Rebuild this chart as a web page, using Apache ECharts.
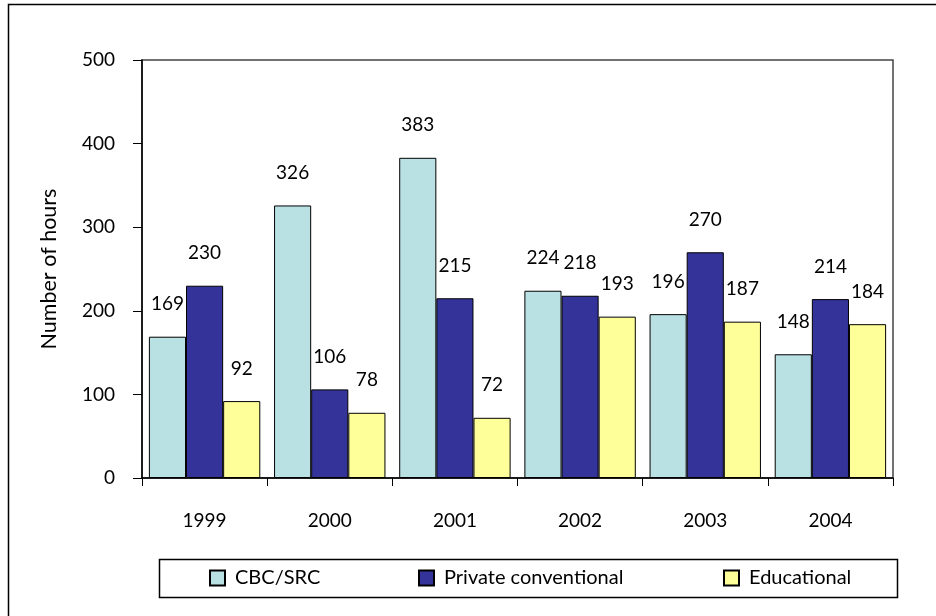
<!DOCTYPE html>
<html>
<head>
<meta charset="utf-8">
<script src="https://cdn.jsdelivr.net/npm/echarts@6/dist/echarts.min.js"></script>
<style>html,body{margin:0;padding:0;background:#fff;}#c{width:936px;height:616px;}</style>
</head>
<body>
<div id="c"></div>
<script>
const years = ['1999', '2000', '2001', '2002', '2003', '2004'];
const cbc = [169, 326, 383, 224, 196, 148];
const privateConv = [230, 106, 215, 218, 270, 214];
const educational = [92, 78, 72, 193, 187, 184];
const seriesNames = ['CBC/SRC', 'Private conventional', 'Educational'];
const colors = ['#B9E0E3', '#333399', '#FFFF99'];

const FONT = 'Lato';
const FS = 19;
const chart = echarts.init(document.getElementById('c'), null, {renderer: 'canvas'});
const mk = (name, data, color) => ({
  name: name, type: 'bar', data: data, barGap: '0%', barCategoryGap: '11%',
  itemStyle: {color: color, borderColor: '#000', borderWidth: 1},
  label: {show: true, position: 'top', distance: 23, color: '#000', fontFamily: FONT, fontSize: FS},
  emphasis: {disabled: true}
});
const legendLefts = [209, 418, 723];
const legends = seriesNames.map((n, i) => ({
  left: legendLefts[i], top: 568, padding: 0, itemWidth: 15, itemHeight: 15, icon: 'rect',
  selectedMode: false,
  textStyle: {fontFamily: FONT, fontSize: 20, color: '#000', padding: [0, 0, 0, 5]},
  data: [n]
}));
chart.setOption({
  animation: false,
  textStyle: {fontFamily: FONT},
  graphic: [
    {type: 'rect', shape: {x: 8.5, y: 4.5, width: 1000, height: 1000}, style: {fill: 'none', stroke: '#000', lineWidth: 1.5}, z: 100},
    {type: 'rect', shape: {x: 159.5, y: 559.5, width: 738, height: 38}, style: {fill: 'none', stroke: '#000', lineWidth: 1.5}, z: 100}
  ],
  grid: {left: 142, right: 43, top: 60, bottom: 138, show: true, borderColor: '#444', borderWidth: 1.5, containLabel: false},
  legend: legends,
  xAxis: {
    type: 'category', data: years,
    axisLine: {lineStyle: {color: '#000', width: 1.5}},
    axisTick: {show: true, length: 8, lineStyle: {color: '#000'}},
    axisLabel: {color: '#000', fontFamily: FONT, fontSize: FS, margin: 33}
  },
  yAxis: {
    type: 'value', min: 0, max: 500, interval: 100,
    name: 'Number of hours', nameLocation: 'middle', nameGap: 82, nameRotate: 90,
    nameTextStyle: {color: '#000', fontFamily: FONT, fontSize: 21.5},
    axisLine: {show: true, lineStyle: {color: '#000', width: 1.5}},
    axisTick: {show: true, length: 9, lineStyle: {color: '#000'}},
    axisLabel: {color: '#000', fontFamily: FONT, fontSize: FS, margin: 27},
    splitLine: {show: false}
  },
  series: [mk(seriesNames[0], cbc, colors[0]), mk(seriesNames[1], privateConv, colors[1]), mk(seriesNames[2], educational, colors[2])]
});
</script>
</body>
</html>
